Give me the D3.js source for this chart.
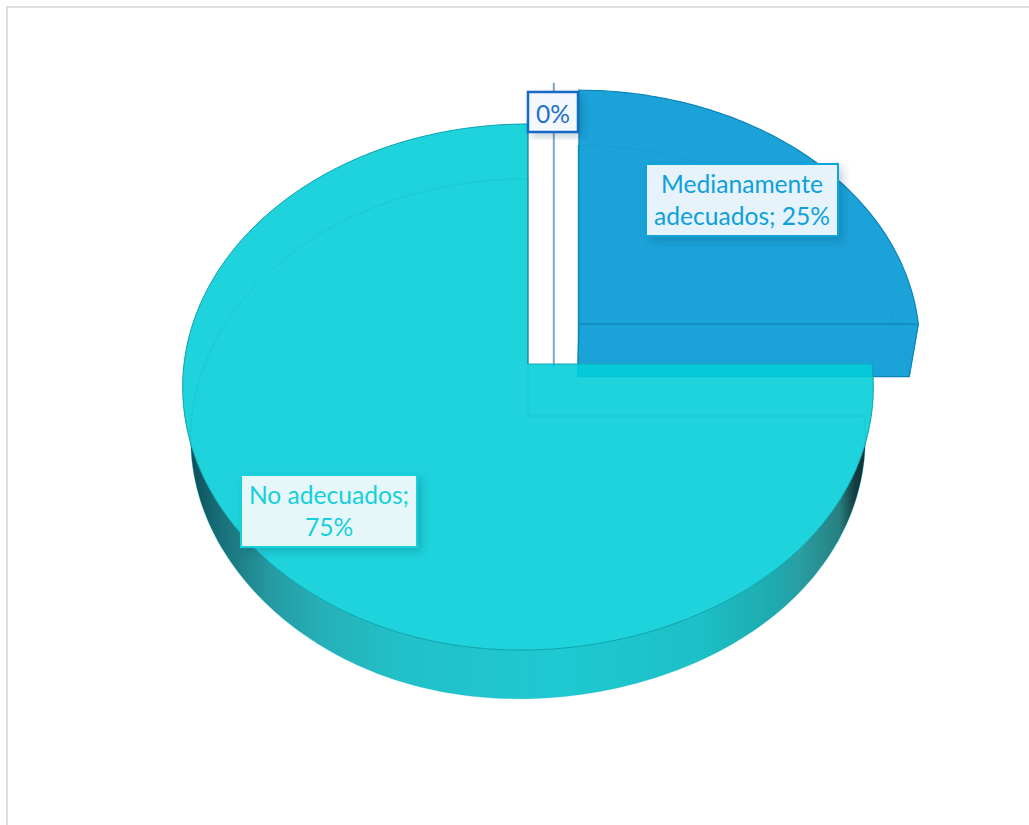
<!DOCTYPE html>
<html>
<head>
<meta charset="utf-8">
<script src="https://cdn.jsdelivr.net/npm/d3@7/dist/d3.min.js"></script>
<style>
  html, body { margin: 0; padding: 0; background: #fff; }
  svg { display: block; }
  text { font-family: Lato, "Open Sans", sans-serif; }
</style>
</head>
<body>
<svg id="chart" width="1029" height="825"></svg>
<script>
// Survey shares, in clock order from twelve o'clock
const categories = ["", "Medianamente adecuados", "No adecuados"];
const values = [0, 25, 75];
const labelLines = [["0%"], ["Medianamente", "adecuados; 25%"], ["No adecuados;", "75%"]];
const sliceColors = ["#1469c4", "rgb(0,152,213)", "rgb(2,206,216)"];
const textColors = ["#1f6fc8", "#0ea0dc", "#14d0dc"];
const borderColors = ["#1469c4", "#0ea5dc", "#12d2de"];
const boxFills = ["#f4f8fc", "#e6f3fa", "#e5f7f8"];
// Displacement of each slice within the pie plane
const explodeU = [0.075, 0.148, 0];
const explodeV = [0.0, 0.155, 0];
// Label box placement: left, top, width, height
const boxes = [[528, 92, 50, 40], [646, 164, 192, 72], [241, 475, 176, 72]];

const svg = d3.select("#chart");
const defs = svg.append("defs");

// Perspective pie: the top and bottom discs are two planes seen from above and in front
const planes = {
  top: { x0: 528, y0: 364, sx: 344, sy: 261, lean: 7 },
  bottom: { x0: 528, y0: 416, sx: 336, sy: 258, lean: 9 }
};
const tilt = 0.0875;
// u and v are rim coordinates before the slice is pulled out by (eu, ev)
const project = (plane, u, v, eu = 0, ev = 0) => {
  const vv = v + ev;
  const w = 1 + tilt * vv;
  const nearEdge = Math.pow(Math.max(0, -vv), 6) * plane.lean;
  return [plane.x0 + plane.sx * (u / w + eu) - nearEdge, plane.y0 - plane.sy * vv / w];
};

const pie = d3.pie().sort(null).value(d => d)(values);
const rimPoints = (plane, i) => {
  const { startAngle: a0, endAngle: a1 } = pie[i];
  const n = Math.max(2, Math.ceil((a1 - a0) * 60));
  return d3.range(n + 1).map(k => {
    const a = a0 + (a1 - a0) * k / n;
    return project(plane, Math.sin(a), Math.cos(a), explodeU[i], explodeV[i]);
  });
};
const apex = (plane, i) => project(plane, 0, 0, explodeU[i], explodeV[i]);
const line = d3.line();
const sector = (plane, i) => line([apex(plane, i), ...rimPoints(plane, i)]) + "Z";

// Page frame
svg.append("path").attr("d", "M7,825V7H1029").attr("fill", "none")
  .attr("stroke", "#dedede").attr("stroke-width", 2);

// Soft shadow shared by the label boxes
const shadow = defs.append("filter").attr("id", "boxShadow")
  .attr("x", "-20%").attr("y", "-20%").attr("width", "140%").attr("height", "140%");
shadow.append("feDropShadow").attr("dx", 4).attr("dy", 4).attr("stdDeviation", 4)
  .attr("flood-color", "#003a50").attr("flood-opacity", 0.22);

// Shading along the outer wall of the large slice
const wallGrad = defs.append("linearGradient").attr("id", "wallGrad")
  .attr("gradientUnits", "userSpaceOnUse")
  .attr("x1", 185).attr("x2", 868).attr("y1", 0).attr("y2", 0);
[[0, "#0b4852"], [0.044, "#166a74"], [0.08, "#1f8088"], [0.125, "#259aa2"], [0.2, "#25b0b8"], [0.315, "#22c0c8"],
 [0.55, "#1ec9d1"], [0.754, "#1cc0c6"], [0.87, "#1fa8ad"], [0.9, "#2a9ea2"], [0.958, "#26807f"], [0.98, "#153f44"], [1, "#0a2a30"]]
  .forEach(([o, c]) => wallGrad.append("stop").attr("offset", o).attr("stop-color", c));

// Zero-valued slice: collapses to a single radial line
const zeroTop = project(planes.top, 0, 1.19, explodeU[0], 0);
const zeroFoot = project(planes.top, 0, -0.015, explodeU[0], 0);
svg.append("line")
  .attr("x1", zeroTop[0]).attr("y1", zeroTop[1]).attr("x2", zeroFoot[0]).attr("y2", zeroFoot[1])
  .attr("stroke", "#7fa6cb").attr("stroke-width", 2);

// Medium slice, top and bottom faces and the cut wall
const blue = svg.append("g").attr("opacity", 0.89);
const blueTopRim = rimPoints(planes.top, 1);
const blueBottomRim = rimPoints(planes.bottom, 1);
blue.append("path").attr("d", sector(planes.bottom, 1)).attr("fill", sliceColors[1]);
blue.append("path")
  .attr("d", line([apex(planes.top, 1), blueTopRim[blueTopRim.length - 1],
                   blueBottomRim[blueBottomRim.length - 1], apex(planes.bottom, 1)]) + "Z")
  .attr("fill", sliceColors[1]).attr("stroke", sliceColors[1]).attr("stroke-width", 1);
blue.append("path").attr("d", sector(planes.top, 1)).attr("fill", sliceColors[1]);
svg.append("path").attr("d", line(blueBottomRim))
  .attr("fill", "none").attr("stroke", "#0d8fc4").attr("stroke-opacity", 0.3);
svg.append("path").attr("d", sector(planes.top, 1))
  .attr("fill", "none").attr("stroke", "#0c84b8").attr("stroke-width", 1.2);
svg.append("path")
  .attr("d", line([blueTopRim[blueTopRim.length - 1], blueBottomRim[blueBottomRim.length - 1], apex(planes.bottom, 1), apex(planes.top, 1)]))
  .attr("fill", "none").attr("stroke", "#0c84b8").attr("stroke-width", 1.2);

// Large slice: wall first, kept to the area outside the top face
const mainTop = sector(planes.top, 2);
defs.append("clipPath").attr("id", "outsideTop")
  .append("path").attr("clip-rule", "evenodd").attr("d", "M0,0H1029V825H0Z" + mainTop);
svg.append("path").attr("d", sector(planes.bottom, 2))
  .attr("clip-path", "url(#outsideTop)")
  .attr("fill", "url(#wallGrad)");
svg.append("path").attr("d", mainTop)
  .attr("fill", sliceColors[2]).attr("fill-opacity", 0.89);

// Faint outline of the far face showing through the top face
svg.append("path").attr("d", sector(planes.bottom, 2))
  .attr("fill", "none").attr("stroke", "#0bb4c0").attr("stroke-opacity", 0.35).attr("stroke-width", 1);
const mainTopRim = rimPoints(planes.top, 2);
svg.append("path").attr("d", line(mainTopRim))
  .attr("fill", "none").attr("stroke", "#0aa2ac").attr("stroke-width", 1);
svg.append("path")
  .attr("d", line([mainTopRim[mainTopRim.length - 1], apex(planes.top, 2)]))
  .attr("fill", "none").attr("stroke", "#0f7f88").attr("stroke-width", 1.2);
svg.append("path")
  .attr("d", line([apex(planes.top, 2), mainTopRim[0]]))
  .attr("fill", "none").attr("stroke", "#12a8b2").attr("stroke-width", 1);

// Data labels
const labels = svg.append("g").selectAll("g").data(pie).join("g");
labels.append("rect")
  .attr("x", (d, i) => boxes[i][0]).attr("y", (d, i) => boxes[i][1])
  .attr("width", (d, i) => boxes[i][2]).attr("height", (d, i) => boxes[i][3])
  .attr("fill", (d, i) => boxFills[i])
  .attr("stroke", (d, i) => borderColors[i]).attr("stroke-width", (d, i) => i === 0 ? 2.5 : 2)
  .attr("filter", "url(#boxShadow)");
labels.each(function (d, i) {
  const [x, y, w, h] = boxes[i];
  const rows = labelLines[i];
  const step = 32;
  d3.select(this).selectAll("text").data(rows).join("text")
    .attr("x", x + w / 2)
    .attr("y", (r, k) => y + h / 2 + (k - (rows.length - 1) / 2) * step + (rows.length === 1 ? 11 : 9))
    .attr("text-anchor", "middle")
    .attr("font-size", 24.6)
    .attr("fill", textColors[i])
    .text(r => r);
});
</script>
</body>
</html>
